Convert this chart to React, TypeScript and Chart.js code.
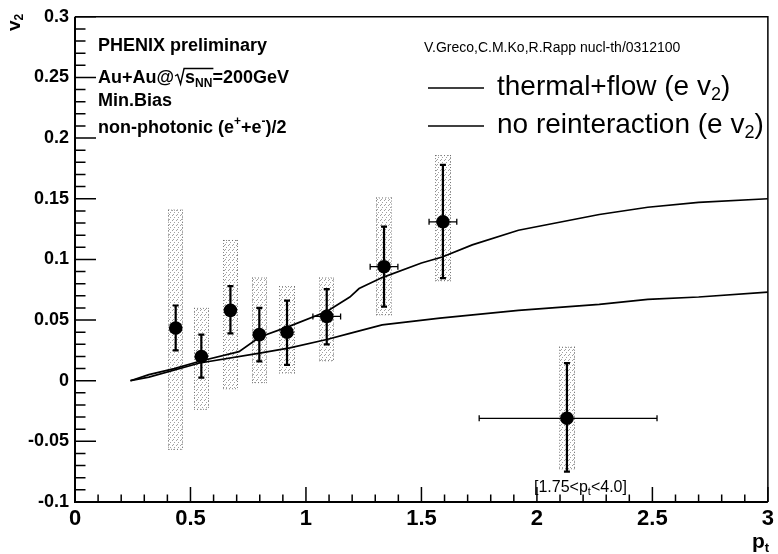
import React, { useEffect, useRef } from "react";
import { Chart, registerables } from "chart.js";

Chart.register(...registerables);

const FONT = '"Liberation Sans", Arial, Helvetica, sans-serif';

// Measured non-photonic electron v2 (PHENIX preliminary, Au+Au 200 GeV, min. bias)
const ptValues = [0.436, 0.547, 0.673, 0.798, 0.918, 1.09, 1.338, 1.593, 2.13];
const v2Values = [0.0434, 0.02, 0.058, 0.038, 0.04, 0.053, 0.094, 0.131, -0.031];
const statHigh = [0.062, 0.038, 0.078, 0.06, 0.066, 0.0755, 0.127, 0.178, 0.0145];
const statLow = [0.025, 0.0025, 0.039, 0.016, 0.013, 0.03, 0.061, 0.0845, -0.075];
const ptLow: (number | null)[] = [null, null, null, null, null, 1.03, 1.278, 1.533, 1.75];
const ptHigh: (number | null)[] = [null, null, null, null, null, 1.15, 1.398, 1.653, 2.52];
const sysHigh = [0.141, 0.06, 0.116, 0.085, 0.078, 0.085, 0.151, 0.186, 0.028];
const sysLow = [-0.057, -0.024, -0.007, -0.002, 0.006, 0.016, 0.054, 0.082, -0.073];
const sysHalfWidth = 0.033;

// Greco, Ko, Rapp predictions for electron v2
const thermalPt = [0.24, 0.32, 0.43, 0.54, 0.71, 0.8, 0.93, 1.09, 1.19, 1.23, 1.33, 1.5, 1.59, 1.72, 1.92, 2.27, 2.48, 2.7, 3.0];
const thermalV2 = [0.0, 0.005, 0.01, 0.016, 0.024, 0.036, 0.045, 0.057, 0.069, 0.076, 0.085, 0.097, 0.102, 0.112, 0.124, 0.137, 0.143, 0.147, 0.15];
const noReintPt = [0.24, 0.32, 0.54, 0.8, 0.93, 1.09, 1.19, 1.33, 1.58, 1.92, 2.27, 2.48, 2.7, 3.0];
const noReintV2 = [0.0, 0.003, 0.0146, 0.0228, 0.027, 0.034, 0.039, 0.046, 0.0516, 0.058, 0.063, 0.067, 0.069, 0.073];

const xTicks = [0, 0.5, 1, 1.5, 2, 2.5, 3];
const xTickLabels = ["0", "0.5", "1", "1.5", "2", "2.5", "3"];
const yTicks = [-0.1, -0.05, 0, 0.05, 0.1, 0.15, 0.2, 0.25, 0.3];
const yTickLabels = ["-0.1", "-0.05", "0", "0.05", "0.1", "0.15", "0.2", "0.25", "0.3"];
const xMinorStep = 0.1;
const yMinorStep = 0.01;

type Run = { t: string; size: number; bold?: boolean; dy?: number };

function drawRuns(ctx: CanvasRenderingContext2D, runs: Run[], x: number, y: number) {
  let cx = x;
  for (const r of runs) {
    ctx.font = `${r.bold ? "bold " : ""}${r.size}px ${FONT}`;
    ctx.fillText(r.t, cx, y + (r.dy || 0));
    cx += ctx.measureText(r.t).width;
  }
  return cx;
}

let dotPattern: CanvasPattern | null = null;
function getDotPattern(ctx: CanvasRenderingContext2D) {
  if (dotPattern) return dotPattern;
  const c = document.createElement("canvas");
  c.width = 4;
  c.height = 5;
  const g = c.getContext("2d")!;
  g.fillStyle = "rgba(130,130,130,0.75)";
  g.fillRect(0, 0, 1, 1);
  g.fillRect(2, 2, 1, 1);
  g.fillRect(1, 4, 1, 1);
  dotPattern = ctx.createPattern(c, "repeat");
  return dotPattern;
}

const rootStylePlugin = {
  id: "rootStyle",
  beforeDatasetsDraw(chart: any) {
    const { ctx } = chart;
    const xs = chart.scales.x;
    const ys = chart.scales.y;
    ctx.save();
    // systematic uncertainty boxes
    for (let i = 0; i < ptValues.length; i++) {
      const l = Math.round(xs.getPixelForValue(ptValues[i] - sysHalfWidth));
      const r = Math.round(xs.getPixelForValue(ptValues[i] + sysHalfWidth));
      const t = ys.getPixelForValue(sysHigh[i]);
      const b = ys.getPixelForValue(sysLow[i]);
      ctx.fillStyle = getDotPattern(ctx);
      ctx.fillRect(l, t, r - l, b - t);
      ctx.strokeStyle = "rgba(100,100,100,0.8)";
      ctx.lineWidth = 1;
      ctx.setLineDash([1, 2]);
      ctx.beginPath();
      ctx.moveTo(l + 0.5, t);
      ctx.lineTo(l + 0.5, b);
      ctx.moveTo(r - 0.5, t);
      ctx.lineTo(r - 0.5, b);
      ctx.moveTo(l, t + 0.5);
      ctx.lineTo(r, t + 0.5);
      ctx.moveTo(l, b - 0.5);
      ctx.lineTo(r, b - 0.5);
      ctx.stroke();
      ctx.setLineDash([]);
    }
    // statistical error bars
    ctx.strokeStyle = "#000";
    for (let i = 0; i < ptValues.length; i++) {
      const x = xs.getPixelForValue(ptValues[i]);
      const y = ys.getPixelForValue(v2Values[i]);
      const yt = ys.getPixelForValue(statHigh[i]);
      const yb = ys.getPixelForValue(statLow[i]);
      ctx.lineWidth = 2.2;
      ctx.beginPath();
      ctx.moveTo(x, yt);
      ctx.lineTo(x, yb);
      ctx.moveTo(x - 3, yt);
      ctx.lineTo(x + 3, yt);
      ctx.moveTo(x - 3, yb);
      ctx.lineTo(x + 3, yb);
      ctx.stroke();
      const lo = ptLow[i];
      const hi = ptHigh[i];
      if (lo !== null && hi !== null) {
        const xl = xs.getPixelForValue(lo);
        const xr = xs.getPixelForValue(hi);
        ctx.lineWidth = 1.3;
        ctx.beginPath();
        ctx.moveTo(xl, y);
        ctx.lineTo(xr, y);
        ctx.moveTo(xl, y - 3);
        ctx.lineTo(xl, y + 3);
        ctx.moveTo(xr, y - 3);
        ctx.lineTo(xr, y + 3);
        ctx.stroke();
      }
    }
    ctx.restore();
  },
  afterDraw(chart: any) {
    const { ctx, chartArea } = chart;
    const xs = chart.scales.x;
    const ys = chart.scales.y;
    const { left, right, top, bottom } = chartArea;
    ctx.save();
    ctx.strokeStyle = "#000";
    ctx.fillStyle = "#000";

    // frame
    ctx.lineWidth = 2;
    ctx.beginPath();
    ctx.moveTo(left, top);
    ctx.lineTo(left, bottom);
    ctx.lineTo(right, bottom);
    ctx.stroke();
    ctx.lineWidth = 1.5;
    ctx.beginPath();
    ctx.moveTo(left, top);
    ctx.lineTo(right, top);
    ctx.lineTo(right, bottom);
    ctx.stroke();

    // inward tick marks
    ctx.lineWidth = 1.5;
    ctx.beginPath();
    const nx = Math.round((xs.max - xs.min) / xMinorStep);
    for (let k = 0; k <= nx; k++) {
      const v = xs.min + k * xMinorStep;
      const major = xTicks.some((t) => Math.abs(t - v) < 1e-6);
      const px = xs.getPixelForValue(v);
      ctx.moveTo(px, bottom);
      ctx.lineTo(px, bottom - (major ? 15 : 7.5));
    }
    const ny = Math.round((ys.max - ys.min) / yMinorStep);
    for (let k = 0; k <= ny; k++) {
      const v = ys.min + k * yMinorStep;
      const major = yTicks.some((t) => Math.abs(t - v) < 1e-6);
      const py = ys.getPixelForValue(v);
      ctx.moveTo(left, py);
      ctx.lineTo(left + (major ? 21 : 10.5), py);
    }
    ctx.stroke();

    ctx.textAlign = "left";
    ctx.textBaseline = "alphabetic";

    // axis titles
    drawRuns(ctx, [
      { t: "p", size: 21, bold: true },
      { t: "t", size: 13, bold: true, dy: 4 },
    ], 752, 548);
    ctx.save();
    ctx.translate(20, 31);
    ctx.rotate(-Math.PI / 2);
    drawRuns(ctx, [
      { t: "v", size: 19, bold: true },
      { t: "2", size: 12, bold: true, dy: 3 },
    ], 0, 0);
    ctx.restore();

    // experiment labels
    drawRuns(ctx, [{ t: "PHENIX preliminary", size: 18, bold: true }], 98, 51);
    const cx = drawRuns(ctx, [{ t: "Au+Au@", size: 18, bold: true }], 98, 83);
    // square-root sign over s_NN
    const rootStart = cx + 1;
    const sStart = rootStart + 10;
    ctx.font = `bold 18px ${FONT}`;
    const sEnd = sStart + ctx.measureText("s").width;
    ctx.font = `bold 12px ${FONT}`;
    const nnEnd = sEnd + ctx.measureText("NN").width;
    ctx.lineWidth = 1.4;
    ctx.beginPath();
    ctx.moveTo(rootStart, 76);
    ctx.lineTo(rootStart + 2.5, 74.5);
    ctx.lineTo(rootStart + 5.5, 84);
    ctx.lineTo(rootStart + 9, 68.5);
    ctx.lineTo(nnEnd + 1, 68.5);
    ctx.stroke();
    drawRuns(ctx, [
      { t: "s", size: 18, bold: true },
      { t: "NN", size: 12, bold: true, dy: 4 },
      { t: "=200GeV", size: 18, bold: true },
    ], sStart, 83);
    drawRuns(ctx, [{ t: "Min.Bias", size: 18, bold: true }], 98, 106);
    drawRuns(ctx, [
      { t: "non-photonic (e", size: 18, bold: true },
      { t: "+", size: 12, bold: true, dy: -8 },
      { t: "+e", size: 18, bold: true },
      { t: "-", size: 12, bold: true, dy: -8 },
      { t: ")/2", size: 18, bold: true },
    ], 98, 133);

    // model reference and legend
    drawRuns(ctx, [{ t: "V.Greco,C.M.Ko,R.Rapp nucl-th/0312100", size: 14 }], 424, 52);
    const legendItems = [
      { main: "thermal+flow (e v", y: 95 },
      { main: "no reinteraction (e v", y: 133 },
    ];
    for (const item of legendItems) {
      ctx.lineWidth = 1.6;
      ctx.beginPath();
      ctx.moveTo(428, item.y - 7);
      ctx.lineTo(484, item.y - 7);
      ctx.stroke();
      drawRuns(ctx, [
        { t: item.main, size: 28 },
        { t: "2", size: 18, dy: 5 },
        { t: ")", size: 28 },
      ], 497, item.y);
    }

    // bin range note for the last point
    drawRuns(ctx, [
      { t: "[1.75<p", size: 16 },
      { t: "t", size: 11, dy: 3 },
      { t: "<4.0]", size: 16 },
    ], 534, 492);

    ctx.restore();
  },
};

export default function App() {
  const canvasRef = useRef<HTMLCanvasElement | null>(null);

  useEffect(() => {
    const canvas = canvasRef.current;
    if (!canvas) return;
    const chart = new Chart(canvas, {
      type: "scatter",
      data: {
        datasets: [
          {
            label: "PHENIX non-photonic e",
            data: ptValues.map((x, i) => ({ x, y: v2Values[i] })),
            pointRadius: 6.8,
            pointBackgroundColor: "#000",
            pointBorderColor: "#000",
            pointBorderWidth: 0,
            showLine: false,
          },
          {
            type: "line",
            label: "thermal+flow (e v2)",
            data: thermalPt.map((x, i) => ({ x, y: thermalV2[i] })),
            borderColor: "#000",
            borderWidth: 1.7,
            pointRadius: 0,
            tension: 0,
            fill: false,
          },
          {
            type: "line",
            label: "no reinteraction (e v2)",
            data: noReintPt.map((x, i) => ({ x, y: noReintV2[i] })),
            borderColor: "#000",
            borderWidth: 1.7,
            pointRadius: 0,
            tension: 0,
            fill: false,
          },
        ] as any,
      },
      options: {
        responsive: false,
        animation: false,
        devicePixelRatio: 1,
        layout: { padding: { top: 16, right: 6, left: 0, bottom: 0 } },
        plugins: { legend: { display: false }, tooltip: { enabled: false } },
        scales: {
          x: {
            type: "linear",
            min: 0,
            max: 3,
            grid: { display: false, drawTicks: false },
            border: { display: false },
            afterBuildTicks: (s: any) => {
              s.ticks = xTicks.map((value) => ({ value }));
            },
            afterFit: (s: any) => {
              s.height = 52;
            },
            ticks: {
              autoSkip: false,
              maxRotation: 0,
              padding: 4,
              color: "#000",
              font: { family: FONT, size: 22, weight: "bold" },
              callback: (_v: any, i: number) => xTickLabels[i],
            },
          },
          y: {
            type: "linear",
            min: -0.1,
            max: 0.3,
            grid: { display: false, drawTicks: false },
            border: { display: false },
            afterBuildTicks: (s: any) => {
              s.ticks = yTicks.map((value) => ({ value }));
            },
            afterFit: (s: any) => {
              s.width = 75;
            },
            ticks: {
              autoSkip: false,
              padding: 6,
              color: "#000",
              font: { family: FONT, size: 18, weight: "bold" },
              callback: (_v: any, i: number) => yTickLabels[i],
            },
          },
        },
      } as any,
      plugins: [rootStylePlugin],
    });
    return () => {
      chart.destroy();
    };
  }, []);

  return (
    <div style={{ position: "absolute", left: 0, top: 0, width: 778, height: 554, background: "#fff" }}>
      <canvas ref={canvasRef} width={778} height={554} style={{ display: "block" }} />
    </div>
  );
}
